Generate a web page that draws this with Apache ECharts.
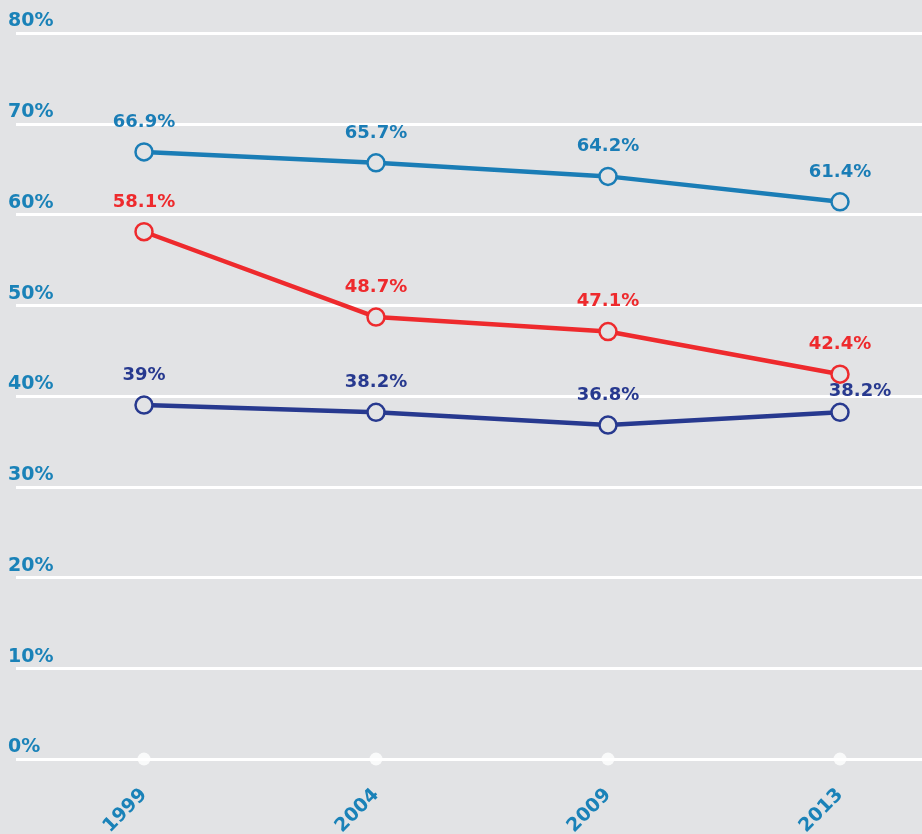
<!DOCTYPE html>
<html>
<head>
<meta charset="utf-8">
<style>
  html, body { margin: 0; padding: 0; background: #e2e3e5; }
  #chart { width: 922px; height: 834px; }
</style>
<script src="https://cdn.jsdelivr.net/npm/echarts@6/dist/echarts.min.js"></script>
</head>
<body>
<div id="chart"></div>
<script>
// 横轴年份
const years = ["1999", "2004", "2009", "2013"];
// 三条折线的数据 (%)
const topLine = [66.9, 65.7, 64.2, 61.4];
const redLine = [58.1, 48.7, 47.1, 42.4];
const navyLine = [39, 38.2, 36.8, 38.2];
// 纵轴刻度
const yMin = 0;
const yMax = 80;
const yStep = 10;

const chart = echarts.init(document.getElementById("chart"));
const fontFamily = "'DejaVu Sans', sans-serif";

// 折线统一样式
function lineSeries(name, data, color) {
  return {
    name: name,
    type: "line",
    xAxisIndex: 0,
    yAxisIndex: 0,
    data: data,
    symbol: "circle",
    symbolSize: 17,
    lineStyle: { color: color, width: 4.5 },
    itemStyle: { color: "#e2e3e5", borderColor: color, borderWidth: 2.5 },
    label: {
      show: true,
      position: "top",
      distance: 11,
      color: color,
      fontFamily: fontFamily,
      fontWeight: "bold",
      fontSize: 18,
      formatter: (p) => p.value + "%",
    },
    z: 5,
  };
}

const navySeries = lineSeries("navy", navyLine, "#27398f");
// 2013 的标签与红线圆点重叠，往右下挪一点
navySeries.data = navyLine.map((v, i) =>
  i === navyLine.length - 1 ? { value: v, label: { offset: [20, 9] } } : v
);

const option = {
  backgroundColor: "#e2e3e5",
  animation: false,
  grid: [
    // 数据区
    { left: 144, right: 82, top: 33, bottom: 75, outerBoundsMode: "none" },
    // 背景网格（横线贯穿全宽）
    { left: 16, right: 0, top: 33, bottom: 75, outerBoundsMode: "none" },
  ],
  xAxis: [
    {
      gridIndex: 0,
      type: "category",
      data: years,
      boundaryGap: false,
      axisLine: { show: false },
      axisTick: { show: false },
      axisLabel: {
        rotate: 45,
        margin: 33,
        color: "#1a82b8",
        fontFamily: fontFamily,
        fontWeight: "bold",
        fontSize: 19,
      },
    },
    { gridIndex: 1, type: "value", show: false },
  ],
  yAxis: [
    { gridIndex: 0, type: "value", min: yMin, max: yMax, interval: yStep, show: false },
    {
      gridIndex: 1,
      type: "value",
      min: yMin,
      max: yMax,
      interval: yStep,
      axisLine: { show: false },
      axisTick: { show: false },
      splitLine: { lineStyle: { color: "#ffffff", width: 3 } },
      axisLabel: {
        inside: true,
        margin: -8,
        align: "left",
        verticalAlign: "bottom",
        padding: [0, 0, 2, 0],
        color: "#1a82b8",
        fontFamily: fontFamily,
        fontWeight: "bold",
        fontSize: 19,
        formatter: "{value}%",
      },
    },
  ],
  series: [
    // 底部白色圆点
    {
      type: "scatter",
      xAxisIndex: 0,
      yAxisIndex: 0,
      data: years.map(() => 0),
      symbolSize: 13,
      itemStyle: { color: "#ffffff" },
      silent: true,
      z: 3,
    },
    lineSeries("top", topLine, "#1a7db6"),
    lineSeries("red", redLine, "#ee2a2d"),
    navySeries,
  ],
};

chart.setOption(option);
</script>
</body>
</html>
